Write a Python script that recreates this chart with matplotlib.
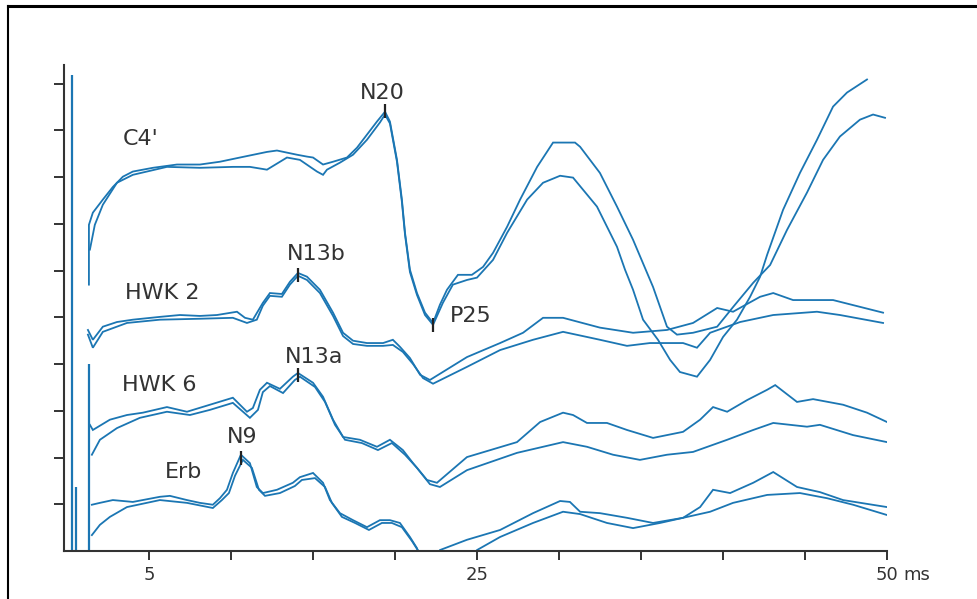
import matplotlib
matplotlib.use("Agg")
import matplotlib.pyplot as plt
from matplotlib.lines import Line2D
from matplotlib.transforms import blended_transform_factory

# ---------------- data (time in ms, amplitude in arbitrary trace units) ----------------
c4_a_t = [1.32, 1.32, 1.56, 2.17, 2.78, 3.39, 4.00, 5.22, 6.69, 8.09, 9.31, 10.53, 12.18, 12.79, 14.01, 14.62,
          14.99, 15.60, 16.21, 17.06, 17.67, 18.28, 18.89, 19.38, 19.68, 20.11, 20.41, 20.60, 20.90, 21.33, 21.82,
          22.31, 22.73, 23.16, 23.83, 24.68, 25.36, 25.97, 26.83, 27.62, 28.66, 29.63, 30.97, 31.28, 32.49, 33.53,
          34.51, 35.73, 36.58, 37.19, 38.17, 39.64, 40.61, 41.84, 42.87, 43.90, 45.12, 46.10, 47.13, 48.35, 49.15,
          49.88]
c4_a_v = [5.70, 6.98, 7.24, 7.52, 7.79, 8.01, 8.12, 8.20, 8.27, 8.27, 8.33, 8.42, 8.54, 8.57, 8.48, 8.44, 8.42,
          8.27, 8.33, 8.42, 8.63, 8.91, 9.19, 9.40, 9.19, 8.37, 7.52, 6.81, 6.02, 5.52, 5.10, 4.88, 5.27, 5.59,
          5.91, 5.91, 6.08, 6.38, 6.94, 7.52, 8.22, 8.74, 8.74, 8.65, 8.09, 7.37, 6.66, 5.65, 4.80, 4.63, 4.67,
          4.80, 5.22, 5.74, 6.12, 6.87, 7.67, 8.37, 8.87, 9.23, 9.34, 9.27]
c4_b_t = [1.38, 1.68, 2.17, 3.03, 4.00, 6.08, 8.09, 10.10, 11.14, 12.18, 13.40, 14.19, 15.23, 15.60, 15.84,
          16.63, 17.43, 18.28, 19.07, 19.38, 19.68, 20.11, 20.41, 20.60, 20.90, 21.33, 21.82, 22.31, 22.91, 23.52,
          24.38, 24.99, 25.97, 26.83, 28.05, 29.02, 30.06, 30.85, 32.31, 33.53, 34.02, 34.51, 35.12, 36.03, 36.77,
          37.37, 38.41, 39.21, 40.00, 40.85, 41.65, 42.26, 42.69, 43.66, 44.69, 45.73, 46.71, 47.56, 48.78]
c4_b_v = [6.45, 6.98, 7.41, 7.88, 8.05, 8.22, 8.20, 8.22, 8.22, 8.16, 8.42, 8.37, 8.12, 8.05, 8.16, 8.31, 8.48,
          8.80, 9.17, 9.34, 9.15, 8.33, 7.47, 6.77, 5.97, 5.48, 5.05, 4.84, 5.31, 5.70, 5.80, 5.85, 6.23, 6.81,
          7.52, 7.88, 8.03, 7.99, 7.37, 6.51, 6.02, 5.59, 4.95, 4.52, 4.09, 3.83, 3.73, 4.09, 4.58, 4.95, 5.44,
          5.87, 6.34, 7.30, 8.09, 8.80, 9.51, 9.81, 10.09]

hwk2_a_t = [1.26, 1.56, 2.17, 3.03, 4.00, 5.65, 6.87, 8.09, 9.13, 10.35, 10.84, 11.32, 11.93, 12.36, 13.09,
            13.58, 14.07, 14.62, 15.41, 16.21, 16.82, 17.43, 18.28, 19.26, 19.86, 20.29, 20.90, 21.52, 22.12,
            24.38, 26.40, 27.80, 29.02, 30.24, 32.49, 34.51, 36.58, 38.17, 39.64, 40.61, 42.26, 43.06, 44.27,
            46.71, 49.76]
hwk2_a_v = [4.73, 4.52, 4.80, 4.90, 4.95, 5.01, 5.05, 5.03, 5.05, 5.12, 4.99, 4.95, 5.31, 5.52, 5.50, 5.76,
            5.95, 5.87, 5.59, 5.10, 4.67, 4.50, 4.45, 4.45, 4.52, 4.37, 4.13, 3.77, 3.66, 4.15, 4.45, 4.67, 4.99,
            4.99, 4.78, 4.67, 4.73, 4.88, 5.20, 5.12, 5.44, 5.52, 5.37, 5.37, 5.10]
hwk2_b_t = [1.26, 1.56, 2.17, 3.64, 5.65, 8.09, 10.10, 10.96, 11.56, 11.93, 12.36, 13.09, 13.58, 14.07, 14.62,
            15.41, 16.21, 16.82, 17.43, 18.28, 19.26, 19.86, 20.47, 21.09, 21.70, 22.31, 24.38, 26.40, 28.41,
            30.24, 31.70, 32.49, 34.14, 35.54, 37.56, 38.41, 39.21, 41.04, 43.06, 45.73, 47.13, 49.76]
hwk2_b_v = [4.63, 4.35, 4.69, 4.88, 4.95, 4.97, 4.99, 4.88, 4.95, 5.25, 5.46, 5.44, 5.70, 5.89, 5.80, 5.52,
            5.03, 4.60, 4.43, 4.39, 4.39, 4.41, 4.26, 4.00, 3.70, 3.58, 3.94, 4.30, 4.52, 4.69, 4.58, 4.52, 4.39,
            4.45, 4.45, 4.35, 4.67, 4.90, 5.05, 5.12, 5.05, 4.88]

hwk6_a_t = [1.38, 1.56, 2.60, 3.64, 4.61, 6.08, 7.30, 8.70, 10.10, 10.96, 11.32, 11.75, 12.18, 12.97, 13.76,
            14.07, 14.99, 15.60, 16.21, 16.82, 17.85, 18.89, 19.68, 20.47, 21.09, 21.94, 22.55, 24.38, 27.43,
            28.84, 30.24, 30.85, 31.70, 32.92, 34.14, 35.73, 37.56, 38.60, 39.39, 40.25, 41.47, 42.69, 43.18,
            44.51, 45.49, 47.32, 48.78, 50.00]
hwk6_a_v = [2.70, 2.59, 2.81, 2.91, 2.96, 3.08, 2.98, 3.13, 3.28, 2.98, 3.06, 3.45, 3.60, 3.47, 3.73, 3.81,
            3.60, 3.30, 2.81, 2.44, 2.38, 2.23, 2.38, 2.16, 1.88, 1.52, 1.46, 2.01, 2.33, 2.76, 2.96, 2.91, 2.74,
            2.74, 2.59, 2.42, 2.55, 2.81, 3.08, 2.98, 3.23, 3.45, 3.55, 3.19, 3.25, 3.13, 2.96, 2.76]
hwk6_b_t = [1.50, 1.99, 3.03, 4.43, 6.08, 7.48, 8.70, 10.10, 11.14, 11.63, 11.93, 12.36, 13.16, 13.88, 14.19,
            15.11, 15.72, 16.33, 16.94, 17.97, 18.95, 19.80, 20.60, 21.33, 22.12, 22.73, 24.38, 27.43, 30.24,
            31.70, 33.29, 34.93, 36.58, 38.17, 40.25, 41.84, 43.06, 45.12, 45.91, 47.93, 50.00]
hwk6_b_v = [2.06, 2.38, 2.63, 2.85, 2.98, 2.91, 3.02, 3.17, 2.85, 3.02, 3.40, 3.53, 3.38, 3.66, 3.73, 3.51,
            3.19, 2.70, 2.38, 2.31, 2.16, 2.31, 2.06, 1.78, 1.43, 1.37, 1.73, 2.10, 2.33, 2.23, 2.06, 1.95, 2.06,
            2.12, 2.38, 2.59, 2.74, 2.66, 2.70, 2.48, 2.33]

erb_a_t = [1.50, 1.99, 2.78, 4.00, 5.65, 6.26, 7.30, 8.09, 8.88, 9.31, 9.74, 10.10, 10.59, 11.14, 11.56, 11.93,
           12.79, 13.76, 14.19, 14.99, 15.60, 16.02, 16.63, 17.43, 18.28, 19.07, 19.68, 20.29, 20.90, 21.33,
           21.70, 22.31, 22.73, 24.38, 26.40, 28.41, 30.06, 30.66, 31.28, 32.49, 34.14, 35.73, 37.56, 38.60,
           39.39, 40.43, 41.84, 43.06, 44.51, 45.91, 47.32, 50.00]
erb_a_v = [0.99, 1.03, 1.09, 1.05, 1.16, 1.18, 1.09, 1.03, 0.99, 1.13, 1.31, 1.67, 2.06, 1.88, 1.37, 1.24,
           1.31, 1.46, 1.58, 1.67, 1.46, 1.09, 0.81, 0.66, 0.51, 0.66, 0.66, 0.60, 0.30, 0.06, -0.30, -0.30,
           0.02, 0.24, 0.45, 0.81, 1.07, 1.05, 0.84, 0.81, 0.71, 0.60, 0.71, 0.94, 1.31, 1.24, 1.46, 1.69, 1.37,
           1.26, 1.09, 0.94]
erb_b_t = [1.50, 1.99, 2.60, 3.64, 5.65, 7.30, 8.88, 9.43, 9.86, 10.23, 10.71, 11.26, 11.69, 12.06, 12.97,
           13.88, 14.31, 15.11, 15.72, 16.14, 16.75, 17.55, 18.40, 19.19, 19.80, 20.41, 21.03, 21.45, 21.82,
           23.95, 24.99, 26.40, 28.41, 30.24, 31.28, 32.92, 34.51, 36.16, 37.56, 39.21, 40.61, 42.69, 44.69,
           46.34, 47.93, 50.00]
erb_b_v = [0.34, 0.56, 0.73, 0.94, 1.09, 1.03, 0.92, 1.09, 1.24, 1.61, 1.95, 1.78, 1.31, 1.18, 1.24, 1.39,
           1.52, 1.56, 1.37, 1.03, 0.73, 0.60, 0.45, 0.60, 0.60, 0.51, 0.21, -0.02, -0.36, -0.41, 0.02, 0.30,
           0.60, 0.84, 0.79, 0.60, 0.49, 0.60, 0.71, 0.84, 1.03, 1.20, 1.24, 1.13, 0.99, 0.77]

# stimulus artefact lines
artifact_t = [0.28, 0.52, 1.30]
artifact_top = [10.19, 1.37, 4.00]

# peak markers
peak_names = ["N20", "N13b", "P25", "N13a", "N9"]
peak_t = [19.38, 14.07, 22.31, 14.07, 10.59]
peak_v = [9.42, 5.90, 4.84, 3.76, 1.99]

# text labels (left x, centre y)
label_text = ["C4'", "HWK 2", "HWK 6", "Erb", "N20", "N13b", "P25", "N13a", "N9"]
label_t = [3.39, 3.51, 3.33, 5.95, 17.85, 13.40, 23.34, 13.28, 9.74]
label_v = [8.82, 5.52, 3.55, 1.69, 9.81, 6.36, 5.03, 4.15, 2.44]

x_ticks = [5, 10, 15, 20, 25, 30, 35, 40, 45, 50]
x_tick_labels = ["5", "", "", "", "25", "", "", "", "", "50"]
y_ticks = [1, 2, 3, 4, 5, 6, 7, 8, 9, 10]

# ---------------- drawing ----------------
W, H = 978, 599
fig = plt.figure(figsize=(W / 100, H / 100), dpi=100)
ax = fig.add_axes([64 / W, 48 / H, (887 - 64) / W, (551 - 65) / H])

col = "#1b76b3"
lw = 1.3
for tt, vv in [(c4_a_t, c4_a_v), (c4_b_t, c4_b_v), (hwk2_a_t, hwk2_a_v), (hwk2_b_t, hwk2_b_v),
               (hwk6_a_t, hwk6_a_v), (hwk6_b_t, hwk6_b_v), (erb_a_t, erb_a_v), (erb_b_t, erb_b_v)]:
    ax.plot(tt, vv, color=col, lw=lw, solid_joinstyle="miter")

ax.vlines(artifact_t, -0.5, artifact_top, color=col, lw=1.6)

ax.plot(peak_t, peak_v, linestyle="none", marker="|", markersize=10, markeredgewidth=1.6, color="#222222")

for s, tx, vy in zip(label_text, label_t, label_v):
    ax.text(tx, vy, s, ha="left", va="center", fontsize=16, color="#333333")

ax.set_xlim(-0.2, 50)
ax.set_ylim(0, 10.4)
ax.set_xticks(x_ticks)
ax.set_xticklabels(x_tick_labels)
ax.set_yticks(y_ticks)
ax.set_yticklabels([])
for sp in ["top", "right"]:
    ax.spines[sp].set_visible(False)
for sp in ["left", "bottom"]:
    ax.spines[sp].set_linewidth(1.5)
    ax.spines[sp].set_color("#333333")
ax.tick_params(axis="x", direction="out", length=6.5, width=1.4, color="#333333",
               labelsize=13, labelcolor="#333333", pad=4)
ax.tick_params(axis="y", direction="out", length=7.5, width=1.4, color="#333333")

ax.annotate("ms", xy=(50, 0), xycoords=blended_transform_factory(ax.transData, ax.transAxes),
            xytext=(11.5, -10.5), textcoords="offset points", ha="left", va="top",
            fontsize=13, color="#333333", annotation_clip=False)

# outer frame (left and top edges visible)
fig.add_artist(Line2D([8 / W, 8 / W], [0, 1 - 6 / H], transform=fig.transFigure, color="black", lw=1.5))
fig.add_artist(Line2D([8 / W, 1], [1 - 6 / H, 1 - 6 / H], transform=fig.transFigure, color="black", lw=2.2))

fig.savefig("out.png", dpi=100)
